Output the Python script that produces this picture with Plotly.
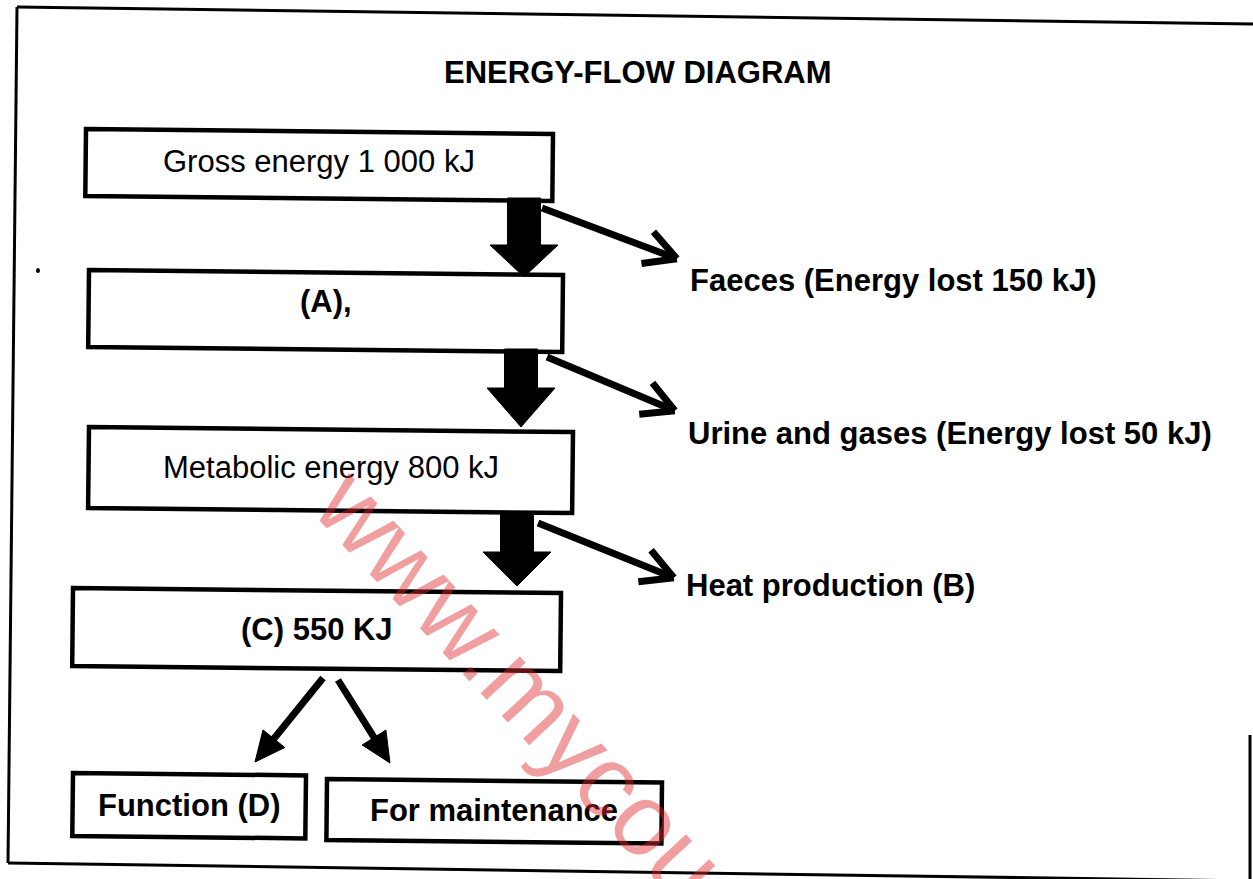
import math
import plotly.graph_objects as go

# ---------------- content (text / values) ----------------
TITLE = "ENERGY-FLOW DIAGRAM"
stage_labels = ["Gross energy 1 000 kJ", "(A),", "Metabolic energy 800 kJ", "(C) 550 KJ"]
loss_labels = ["Faeces (Energy lost 150 kJ)",
               "Urine and gases (Energy lost 50 kJ)",
               "Heat production (B)"]
use_labels = ["Function (D)", "For maintenance"]
WATERMARK = "www.mycou"

# ---------------- geometry (pixels, y downwards) ----------------
W, H = 1253, 879
TILT = 0.0105                       # slight rotation of the scanned page
stage_boxes = [(86, 129, 467, 67), (89, 270, 474, 77), (89, 427, 484, 81), (73, 588, 488, 78)]
stage_bold = [False, True, False, True]
stage_dy = [-3, -9, -3, 0]
use_boxes = [(73, 773, 233, 63), (327, 779, 335, 61)]
use_dy = [0, -1]
block_arrows = [(524, 198, 245, 277), (521, 349, 388, 427), (517, 512, 552, 586)]
loss_arrows = [(542, 208, 675, 258), (547, 357, 673, 410), (538, 523, 672, 577)]
loss_text_pos = [(688, 280), (686, 433), (684, 585)]
use_arrows = [(323, 678, 255, 762), (338, 680, 390, 763)]
border_lines = [((17, 7), (1253, 24)), ((17, 7), (8, 863)), ((8, 863), (1253, 881)), ((1250, 735), (1250, 879))]

FONT = "Liberation Sans, Arial, sans-serif"
BLACK = "#000000"

shapes = []
annotations = []


def tilt_pt(x0, y0, dx, dy):
    return (x0 + dx - dy * TILT, y0 + dy + dx * TILT)


def box(x, y, w, h, lw=4.5):
    pts = [tilt_pt(x, y, 0, 0), tilt_pt(x, y, w, 0), tilt_pt(x, y, w, h), tilt_pt(x, y, 0, h)]
    path = "M " + " L ".join(f"{px:.1f},{py:.1f}" for px, py in pts) + " Z"
    shapes.append(dict(type="path", path=path, xref="x", yref="y",
                       line=dict(color=BLACK, width=lw), fillcolor="rgba(0,0,0,0)", layer="below"))
    return tilt_pt(x, y, w / 2, h / 2)


def poly(pts, color=BLACK):
    path = "M " + " L ".join(f"{px:.1f},{py:.1f}" for px, py in pts) + " Z"
    shapes.append(dict(type="path", path=path, xref="x", yref="y",
                       line=dict(color=color, width=1), fillcolor=color, layer="below"))


def seg(p, q, w):
    shapes.append(dict(type="line", x0=p[0], y0=p[1], x1=q[0], y1=q[1], xref="x", yref="y",
                       line=dict(color=BLACK, width=w), layer="below"))


def label(x, y, text, size=31, bold=False, xanchor="center"):
    annotations.append(dict(x=x, y=y, xref="x", yref="y", text=f"<b>{text}</b>" if bold else text,
                            showarrow=False, xanchor=xanchor, yanchor="middle",
                            font=dict(family=FONT, size=size, color=BLACK)))


# page border
for p, q in border_lines:
    seg(p, q, 3)

# small scan speck
shapes.append(dict(type="circle", x0=36, y0=268, x1=40, y1=273, xref="x", yref="y",
                   line=dict(width=0), fillcolor=BLACK))

# title
label(638, 72, TITLE, size=31, bold=True)

# stage boxes
for (bx, by, bw, bh), txt, b, dy in zip(stage_boxes, stage_labels, stage_bold, stage_dy):
    cx, cy = box(bx, by, bw, bh)
    label(cx, cy + dy, txt, bold=b)

# end-use boxes
for (bx, by, bw, bh), txt, dy in zip(use_boxes, use_labels, use_dy):
    cx, cy = box(bx, by, bw, bh)
    label(cx, cy + dy, txt, bold=True)

# thick block arrows between stages
for cx, yt, yb, ytip in block_arrows:
    sw, hw = 16.5, 34
    poly([(cx - sw, yt), (cx + sw, yt), (cx + sw, yb), (cx + hw, yb), (cx, ytip),
          (cx - hw, yb), (cx - sw, yb)])

# loss arrows with open chevron heads
for (x0, y0, x1, y1), txt, (tx, ty) in zip(loss_arrows, loss_labels, loss_text_pos):
    seg((x0, y0), (x1, y1), 7)
    ang = math.atan2(y1 - y0, x1 - x0) + math.pi
    for da in (math.radians(30), -math.radians(30)):
        L = 34
        seg((x1 + 2 * math.cos(ang + math.pi), y1 + 2 * math.sin(ang + math.pi)),
            (x1 + L * math.cos(ang + da), y1 + L * math.sin(ang + da)), 7)
    label(tx, ty, txt, bold=True, xanchor="left")

# arrows from (C) to its uses (filled heads)
for x0, y0, x1, y1 in use_arrows:
    d = math.hypot(x1 - x0, y1 - y0)
    ux, uy = (x1 - x0) / d, (y1 - y0) / d
    nx, ny = -uy, ux
    L, hw = 30, 14
    seg((x0, y0), (x1 - ux * L * 0.7, y1 - uy * L * 0.7), 7)
    poly([(x1, y1), (x1 - ux * L + nx * hw, y1 - uy * L + ny * hw),
          (x1 - ux * L - nx * hw, y1 - uy * L - ny * hw)])

# watermark
annotations.append(dict(x=520, y=684, xref="x", yref="y", text=WATERMARK, showarrow=False,
                        textangle=47, xanchor="center", yanchor="middle",
                        font=dict(family="Liberation Sans, Arial, sans-serif", size=102,
                                  color="rgba(225,40,45,0.45)")))

fig = go.Figure()
fig.update_layout(width=W, height=H, margin=dict(l=0, r=0, t=0, b=0),
                  paper_bgcolor="white", plot_bgcolor="white", showlegend=False,
                  xaxis=dict(range=[0, W], visible=False, fixedrange=True),
                  yaxis=dict(range=[H, 0], visible=False, fixedrange=True),
                  shapes=shapes, annotations=annotations)
fig.write_html("out.html", config={"displayModeBar": False},
               post_script="document.body.style.margin='0';document.body.style.overflow='hidden';")
